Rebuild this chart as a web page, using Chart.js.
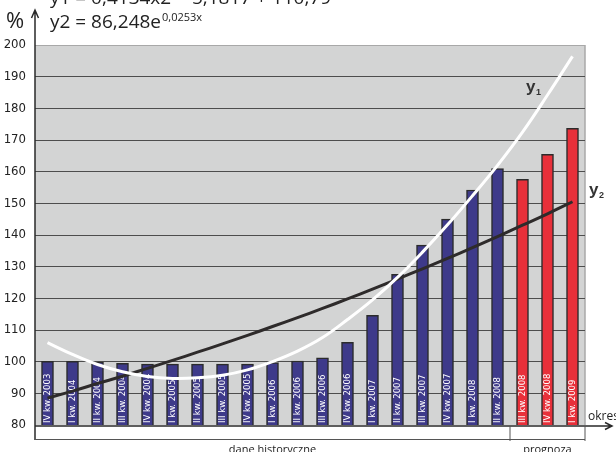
<!DOCTYPE html>
<html lang="pl">
<head>
<meta charset="UTF-8" />
<title>Dane historyczne i prognoza</title>
<script src="https://cdn.jsdelivr.net/npm/chart.js"></script>
<style>
  body { margin: 0; background: #fff; }
  canvas { display: block; }
</style>
</head>
<body>
<canvas id="chart" width="616" height="452"></canvas>
<script>
  // quarters on the x axis
  const quarters = [
    "IV kw. 2003", "I kw. 2004", "II kw. 2004", "III kw. 2004", "IV kw. 2004",
    "I kw. 2005", "II kw. 2005", "III kw. 2005", "IV kw. 2005",
    "I kw. 2006", "II kw. 2006", "III kw. 2006", "IV kw. 2006",
    "I kw. 2007", "II kw. 2007", "III kw. 2007", "IV kw. 2007",
    "I kw. 2008", "II kw. 2008", "III kw. 2008", "IV kw. 2008", "I kw. 2009"
  ];

  // index values (%)
  const historyValues = [
    100.1, 100.1, 99.9, 99.5, 99.2, 99.2, 99.2, 99.2, 99.2, 99.7,
    100.2, 101.2, 106.1, 114.6, 127.6, 136.8, 145.0, 154.2, 161.0
  ];
  const forecastValues = [157.6, 165.5, 173.7];

  // trend lines
  const trendY1 = [
    106.0, 102.3, 99.1, 96.8, 95.3, 94.7, 94.9, 95.7, 97.4, 100.0, 103.3,
    107.6, 113.3, 119.5, 126.6, 134.6, 143.2, 152.4, 162.0, 172.5, 184.2, 196.4
  ];
  const trendY2 = [
    88.5, 90.7, 93.1, 95.4, 97.9, 100.4, 103.0, 105.6, 108.3, 111.1, 113.9,
    116.8, 119.8, 122.9, 126.1, 129.3, 132.6, 136.0, 139.5, 143.1, 146.7, 150.5
  ];

  const yTicks = [80, 90, 100, 110, 120, 130, 140, 150, 160, 170, 180, 190, 200];

  const nHist = historyValues.length;
  const historyData = quarters.map((q, i) => (i < nHist ? historyValues[i] : null));
  const forecastData = quarters.map((q, i) => (i >= nHist ? forecastValues[i - nHist] : null));

  const condensed = '"Liberation Sans Narrow", "DejaVu Sans Condensed", sans-serif';

  // gray plot background and light right edge
  const plotFrame = {
    id: "plotFrame",
    beforeDraw(chart) {
      const { ctx, chartArea: a } = chart;
      ctx.save();
      ctx.fillStyle = "#d3d4d4";
      ctx.fillRect(a.left, a.top, a.right - a.left, a.bottom - a.top);
      ctx.strokeStyle = "#a8a8a8";
      ctx.lineWidth = 1.5;
      ctx.beginPath();
      ctx.moveTo(a.right, a.top);
      ctx.lineTo(a.right, a.bottom);
      ctx.stroke();
      ctx.restore();
    }
  };

  // quarter names written upwards inside each bar
  const barLabels = {
    id: "barLabels",
    afterDatasetDraw(chart, args) {
      const ds = chart.data.datasets[args.index];
      if (ds.type === "line") return;
      const ctx = chart.ctx;
      const yBase = chart.scales.y.getPixelForValue(yTicks[0]);
      ctx.save();
      ctx.fillStyle = "#ffffff";
      ctx.font = "9.5px " + condensed;
      ctx.textAlign = "left";
      ctx.textBaseline = "middle";
      ds.data.forEach((v, i) => {
        if (v == null) return;
        const cx = chart.scales.x.getPixelForValue(i);
        ctx.save();
        ctx.translate(cx + 0.5, yBase - 2);
        ctx.rotate(-Math.PI / 2);
        ctx.fillText(quarters[i], 0, 0);
        ctx.restore();
      });
      ctx.restore();
    }
  };

  // axes with arrows, period brackets, equations and captions
  const annotations = {
    id: "annotations",
    afterDraw(chart) {
      const { ctx, chartArea: a, scales: { x } } = chart;
      const split = (x.getPixelForValue(nHist - 1) + x.getPixelForValue(nHist)) / 2;
      const axisY = a.bottom + 1;
      ctx.save();

      ctx.strokeStyle = "#2a2a2a";
      ctx.lineWidth = 1.5;
      ctx.beginPath();
      ctx.moveTo(a.left, 440);
      ctx.lineTo(a.left, 10);
      ctx.moveTo(a.left - 3.5, 18);
      ctx.lineTo(a.left, 10);
      ctx.lineTo(a.left + 3.5, 18);
      ctx.moveTo(a.left, axisY);
      ctx.lineTo(612, axisY);
      ctx.moveTo(605, axisY - 3.5);
      ctx.lineTo(612, axisY);
      ctx.lineTo(605, axisY + 3.5);
      ctx.stroke();

      ctx.strokeStyle = "#555";
      ctx.lineWidth = 1;
      ctx.beginPath();
      ctx.moveTo(a.left, 439.5);
      ctx.lineTo(a.right, 439.5);
      ctx.moveTo(split, axisY);
      ctx.lineTo(split, 441);
      ctx.moveTo(a.right, axisY);
      ctx.lineTo(a.right, 441);
      ctx.stroke();

      ctx.fillStyle = "#222";
      ctx.textBaseline = "alphabetic";
      ctx.font = "11px 'Open Sans', sans-serif";
      ctx.textAlign = "center";
      ctx.fillText("dane historyczne", (a.left + split) / 2, 453);
      ctx.fillText("prognoza", (split + a.right) / 2, 453);
      ctx.textAlign = "left";
      ctx.font = "12px 'Open Sans', sans-serif";
      ctx.fillText("okres", 588, 420);

      // unit and trend equations above the plot
      ctx.font = "22px 'Open Sans', sans-serif";
      ctx.fillText("%", 6, 28);
      ctx.font = "19px 'Open Sans', sans-serif";
      ctx.fillText("y1 = 0,4134x2 − 5,1817 + 110,79", 50, 4);
      const eq = "y2 = 86,248e";
      ctx.fillText(eq, 50, 28);
      const w = ctx.measureText(eq).width;
      ctx.font = "11px 'Open Sans', sans-serif";
      ctx.fillText("0,0253x", 50 + w + 1, 21);

      // curve names
      ctx.fillStyle = "#333";
      ctx.font = "bold 17px 'Liberation Sans', sans-serif";
      ctx.fillText("y", 526, 92);
      ctx.fillText("y", 589, 195);
      ctx.font = "bold 9px 'Liberation Sans', sans-serif";
      ctx.fillText("1", 536, 95);
      ctx.fillText("2", 599, 198);

      ctx.restore();
    }
  };

  new Chart(document.getElementById("chart"), {
    type: "bar",
    data: {
      labels: quarters,
      datasets: [
        {
          type: "line",
          label: "y1",
          data: trendY1,
          borderColor: "#ffffff",
          borderWidth: 3,
          pointRadius: 0,
          tension: 0.4,
          order: 0
        },
        {
          type: "line",
          label: "y2",
          data: trendY2,
          borderColor: "#2e2b2b",
          borderWidth: 3,
          pointRadius: 0,
          tension: 0.4,
          order: 1
        },
        {
          type: "bar",
          label: "dane historyczne",
          data: historyData,
          backgroundColor: "#3e3a8a",
          borderColor: "#2b2b2b",
          borderWidth: 1.5,
          barThickness: 12,
          grouped: false,
          order: 2
        },
        {
          type: "bar",
          label: "prognoza",
          data: forecastData,
          backgroundColor: "#e8303a",
          borderColor: "#2b2b2b",
          borderWidth: 1.5,
          barThickness: 12,
          grouped: false,
          order: 2
        }
      ]
    },
    options: {
      responsive: false,
      animation: false,
      devicePixelRatio: 1,
      layout: { padding: { top: 45, right: 31, left: 0, bottom: 0 } },
      plugins: {
        legend: { display: false },
        tooltip: { enabled: false }
      },
      scales: {
        x: {
          grid: { display: false },
          border: { display: false },
          ticks: { display: false },
          afterFit(scale) { scale.height = 27; }
        },
        y: {
          min: yTicks[0],
          max: yTicks[yTicks.length - 1],
          afterBuildTicks(scale) { scale.ticks = yTicks.map((v) => ({ value: v })); },
          border: { display: false },
          grid: {
            drawTicks: false,
            lineWidth: 1,
            color: (c) => (c.tick.value === 80 ? "rgba(0,0,0,0)" : c.tick.value === 200 ? "#a8a8a8" : "#4d4d4d")
          },
          ticks: {
            padding: 9,
            color: "#222",
            font: { family: condensed, size: 13 }
          },
          afterFit(scale) { scale.width = 35; }
        }
      }
    },
    plugins: [plotFrame, barLabels, annotations]
  });
</script>
</body>
</html>
